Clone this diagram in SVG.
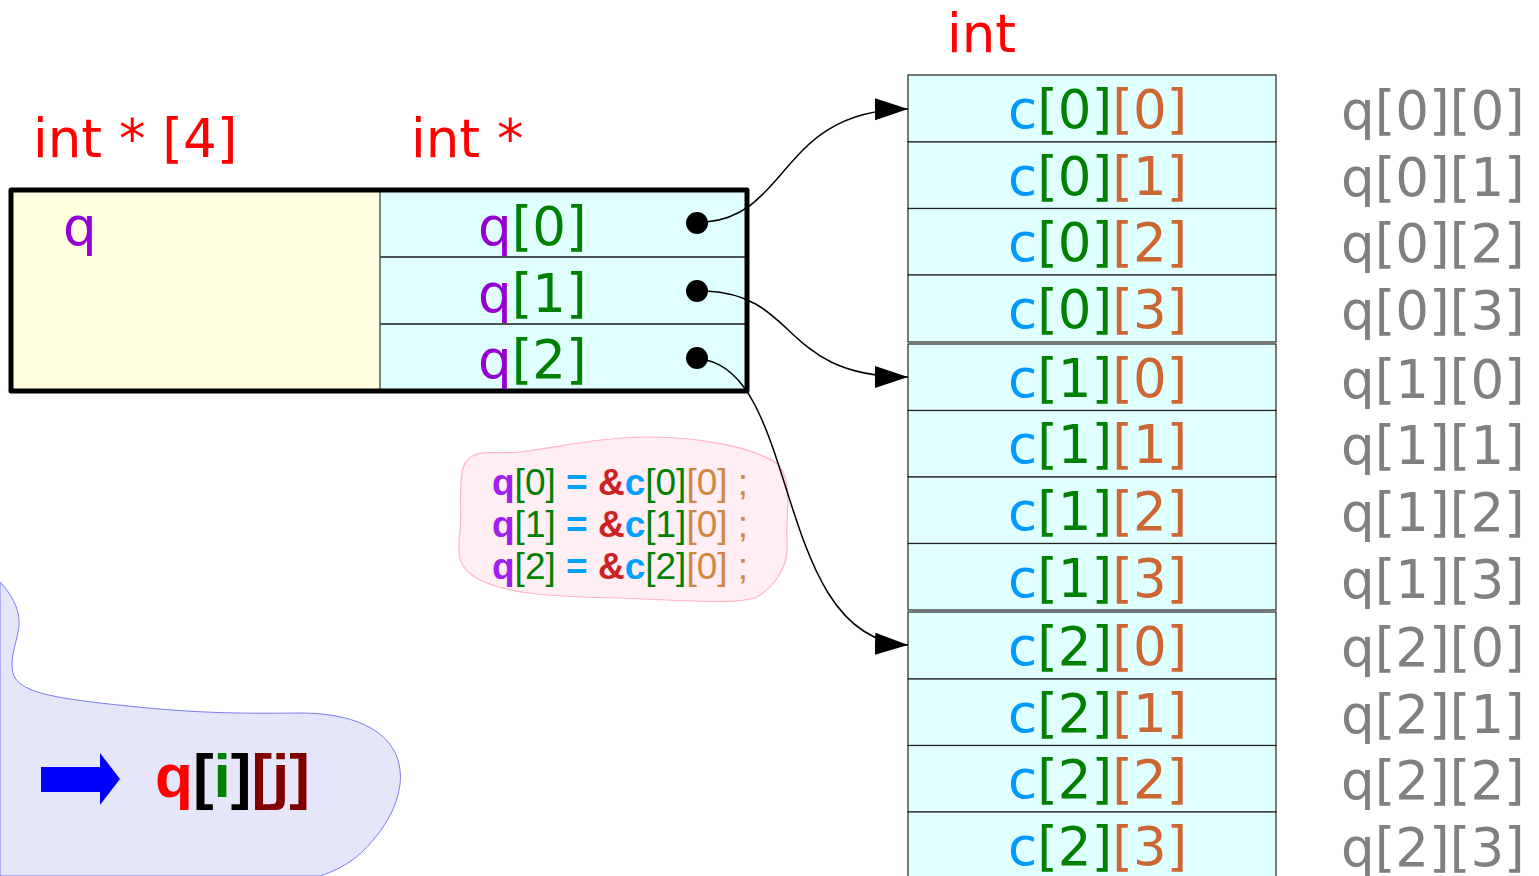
<svg xmlns="http://www.w3.org/2000/svg" width="1539" height="876" viewBox="0 0 1539 876">
<defs>
<marker id="ah" markerUnits="userSpaceOnUse" markerWidth="34" markerHeight="24" viewBox="0 0 34 24" refX="33" refY="12" orient="auto">
<path d="M0,1 L33,12 L0,23 z" fill="#000"/>
</marker>
<style>
.dv{font-family:"DejaVu Sans",sans-serif;}
.big{font-size:53px;}
.red{fill:#ff0000;}
.pur{fill:#9400d3;}
.grn{fill:#008000;}
.cb{fill:#0099ff;}
.org{fill:#cc6633;}
.gry{fill:#808080;}
.cell{fill:#e0ffff;stroke:#222;stroke-width:1.2;}
.conn{fill:none;stroke:#000;stroke-width:1.5;}
.code{font-family:"Liberation Sans",Arial,sans-serif;font-size:37px;}
.b{font-weight:bold;}
</style>
</defs>
<rect width="1539" height="876" fill="#fff"/>

<g id="blob-qij">
<path d="M0,582 C15,598 22,615 18,632 C15,648 8,665 15,678 C25,692 50,697 100,703 C180,712 220,714 300,713 C350,713 388,728 398,760 C407,790 390,825 362,852 C347,866 332,872 320,876 L0,876 Z" fill="#e6e6fa" stroke="#7b7bf0" stroke-width="1"/>
<path d="M41,767 L100,767 L100,753 L120,779 L100,805 L100,792 L41,792 Z" fill="#0000ff"/>
<text x="155" y="797" font-family="Liberation Sans,Arial,sans-serif" font-size="62" font-weight="bold"><tspan fill="#ff0000">q</tspan><tspan fill="#000">[</tspan><tspan fill="#008000">i</tspan><tspan fill="#000">]</tspan><tspan fill="#800000">[j]</tspan></text>
</g>

<g id="note">
<path d="M463,468 C470,445 500,455 520,452 C560,447 600,437 650,437 C700,437 750,447 775,462 C795,475 785,520 787,540 C790,570 770,590 755,598 C730,605 680,600 620,598 C560,597 510,595 480,580 C455,568 458,550 460,530 C462,510 458,490 463,468 Z" fill="#ffeef3" stroke="#ffb6c1" stroke-width="1.2"/>
<text class="code" x="492" y="495"><tspan class="b" fill="#a020f0">q</tspan><tspan fill="#008000">[0]</tspan><tspan class="b" fill="#00a0ff"> = </tspan><tspan class="b" fill="#cc2222">&amp;</tspan><tspan class="b" fill="#00a0ff">c</tspan><tspan fill="#008000">[0]</tspan><tspan fill="#d08840">[0] ;</tspan></text>
<text class="code" x="492" y="537"><tspan class="b" fill="#a020f0">q</tspan><tspan fill="#008000">[1]</tspan><tspan class="b" fill="#00a0ff"> = </tspan><tspan class="b" fill="#cc2222">&amp;</tspan><tspan class="b" fill="#00a0ff">c</tspan><tspan fill="#008000">[1]</tspan><tspan fill="#d08840">[0] ;</tspan></text>
<text class="code" x="492" y="579"><tspan class="b" fill="#a020f0">q</tspan><tspan fill="#008000">[2]</tspan><tspan class="b" fill="#00a0ff"> = </tspan><tspan class="b" fill="#cc2222">&amp;</tspan><tspan class="b" fill="#00a0ff">c</tspan><tspan fill="#008000">[2]</tspan><tspan fill="#d08840">[0] ;</tspan></text>
</g>

<g id="labels-top" class="dv big">
<text class="red" x="33" y="157">int * [4]</text>
<text class="red" x="411" y="157">int *</text>
<text class="red" x="947" y="52">int</text>
</g>

<g id="q-box">
<rect x="11" y="190" width="369" height="201" fill="#ffffe0"/>
<rect x="380" y="190" width="367" height="201" fill="#e0ffff"/>
<line x1="380" y1="190" x2="380" y2="391" stroke="#333" stroke-width="1.2"/>
<line x1="380" y1="257" x2="747" y2="257" stroke="#4a5555" stroke-width="2"/>
<line x1="380" y1="324" x2="747" y2="324" stroke="#4a5555" stroke-width="2"/>
<rect x="11" y="190" width="736" height="201" fill="none" stroke="#000" stroke-width="5" stroke-linejoin="round"/>
<text class="dv big pur" x="63" y="245">q</text>
<text class="dv big" x="478" y="245"><tspan class="pur">q</tspan><tspan class="grn">[0]</tspan></text>
<text class="dv big" x="478" y="312"><tspan class="pur">q</tspan><tspan class="grn">[1]</tspan></text>
<text class="dv big" x="478" y="378"><tspan class="pur">q</tspan><tspan class="grn">[2]</tspan></text>
<circle cx="697" cy="223" r="11" fill="#000"/>
<circle cx="697" cy="291" r="11" fill="#000"/>
<circle cx="697" cy="358" r="11" fill="#000"/>
</g>

<g id="c-row0">
<rect class="cell" x="908" y="75" width="368" height="67"/>
<rect class="cell" x="908" y="142" width="368" height="66.5"/>
<rect class="cell" x="908" y="208.5" width="368" height="66.5"/>
<rect class="cell" x="908" y="275" width="368" height="67"/>
<text class="dv big" x="1008" y="128"><tspan class="cb">c</tspan><tspan class="grn">[0]</tspan><tspan class="org">[0]</tspan></text>
<text class="dv big" x="1008" y="195"><tspan class="cb">c</tspan><tspan class="grn">[0]</tspan><tspan class="org">[1]</tspan></text>
<text class="dv big" x="1008" y="261"><tspan class="cb">c</tspan><tspan class="grn">[0]</tspan><tspan class="org">[2]</tspan></text>
<text class="dv big" x="1008" y="328"><tspan class="cb">c</tspan><tspan class="grn">[0]</tspan><tspan class="org">[3]</tspan></text>
</g>
<g id="c-row1">
<rect class="cell" x="908" y="344" width="368" height="66.5"/>
<rect class="cell" x="908" y="410.5" width="368" height="66.5"/>
<rect class="cell" x="908" y="477" width="368" height="66.5"/>
<rect class="cell" x="908" y="543.5" width="368" height="66.5"/>
<text class="dv big" x="1008" y="397"><tspan class="cb">c</tspan><tspan class="grn">[1]</tspan><tspan class="org">[0]</tspan></text>
<text class="dv big" x="1008" y="463"><tspan class="cb">c</tspan><tspan class="grn">[1]</tspan><tspan class="org">[1]</tspan></text>
<text class="dv big" x="1008" y="530"><tspan class="cb">c</tspan><tspan class="grn">[1]</tspan><tspan class="org">[2]</tspan></text>
<text class="dv big" x="1008" y="597"><tspan class="cb">c</tspan><tspan class="grn">[1]</tspan><tspan class="org">[3]</tspan></text>
</g>
<g id="c-row2">
<rect class="cell" x="908" y="612" width="368" height="67"/>
<rect class="cell" x="908" y="679" width="368" height="66.5"/>
<rect class="cell" x="908" y="745.5" width="368" height="66.5"/>
<rect class="cell" x="908" y="812" width="368" height="70"/>
<text class="dv big" x="1008" y="665"><tspan class="cb">c</tspan><tspan class="grn">[2]</tspan><tspan class="org">[0]</tspan></text>
<text class="dv big" x="1008" y="732"><tspan class="cb">c</tspan><tspan class="grn">[2]</tspan><tspan class="org">[1]</tspan></text>
<text class="dv big" x="1008" y="798"><tspan class="cb">c</tspan><tspan class="grn">[2]</tspan><tspan class="org">[2]</tspan></text>
<text class="dv big" x="1008" y="865"><tspan class="cb">c</tspan><tspan class="grn">[2]</tspan><tspan class="org">[3]</tspan></text>
</g>

<g id="q-aliases" class="dv big gry">
<text x="1341" y="129">q[0][0]</text>
<text x="1341" y="196">q[0][1]</text>
<text x="1341" y="262">q[0][2]</text>
<text x="1341" y="329">q[0][3]</text>
<text x="1341" y="398">q[1][0]</text>
<text x="1341" y="464">q[1][1]</text>
<text x="1341" y="531">q[1][2]</text>
<text x="1341" y="598">q[1][3]</text>
<text x="1341" y="666">q[2][0]</text>
<text x="1341" y="733">q[2][1]</text>
<text x="1341" y="799">q[2][2]</text>
<text x="1341" y="866">q[2][3]</text>
</g>

<g id="connectors">
<path class="conn" d="M706,222 C790,215 780,110 908,109" marker-end="url(#ah)"/>
<path class="conn" d="M706,291 C800,295 780,377 908,377" marker-end="url(#ah)"/>
<path class="conn" d="M706,360 C800,380 775,640 908,645" marker-end="url(#ah)"/>
</g>
</svg>
